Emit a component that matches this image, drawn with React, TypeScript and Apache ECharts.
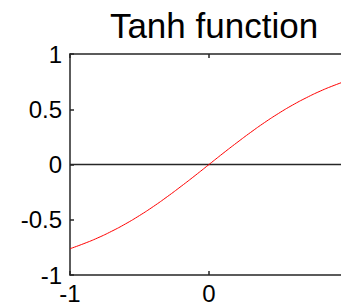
import React, { useEffect, useRef } from "react";
import * as echarts from "echarts";

const titleText = "Tanh function";
const xValues = [-1, -0.9, -0.8, -0.7, -0.6, -0.5, -0.4, -0.3, -0.2, -0.1, 0, 0.1, 0.2, 0.3, 0.4, 0.5, 0.6, 0.7, 0.8, 0.9, 1];
const yValues = [-0.762, -0.716, -0.664, -0.604, -0.537, -0.462, -0.38, -0.291, -0.197, -0.1, 0, 0.1, 0.197, 0.291, 0.38, 0.462, 0.537, 0.604, 0.664, 0.716, 0.762];
const zeroLine = [[-1, 0], [1, 0]];

export default function App() {
  const ref = useRef<HTMLDivElement>(null);
  useEffect(() => {
    document.body.style.margin = "0";
    document.body.style.overflow = "hidden";
    const chart = echarts.init(ref.current!, null, { renderer: "svg" });
    const font = "Arial, 'Liberation Sans', sans-serif";
    const axisLine = { show: true, onZero: false, lineStyle: { color: "#262626", width: 1.5 } };
    const tick = { show: true, inside: true, length: 4, lineStyle: { color: "#262626", width: 1.5 } };
    chart.setOption({
      animation: false,
      backgroundColor: "#ffffff",
      title: {
        text: titleText,
        left: 209,
        textAlign: "center",
        top: 3,
        textStyle: { fontFamily: font, fontSize: 35, fontWeight: "normal", color: "#000" },
      },
      grid: { left: 70, top: 54, width: 278, height: 221, containLabel: false },
      xAxis: [
        {
          type: "value",
          min: -1,
          max: 1,
          interval: 1,
          position: "bottom",
          axisLine,
          axisTick: tick,
          axisLabel: { fontFamily: font, fontSize: 24, color: "#000", margin: 6, showMaxLabel: false },
          splitLine: { show: false },
        },
        {
          type: "value",
          min: -1,
          max: 1,
          interval: 1,
          position: "top",
          axisLine,
          axisTick: tick,
          axisLabel: { show: false },
          splitLine: { show: false },
        },
      ],
      yAxis: [
        {
          type: "value",
          min: -1,
          max: 1,
          interval: 0.5,
          position: "left",
          axisLine,
          axisTick: tick,
          axisLabel: { fontFamily: font, fontSize: 24, color: "#000", margin: 8 },
          splitLine: { show: false },
        },
      ],
      series: [
        {
          type: "line",
          data: zeroLine,
          symbol: "none",
          lineStyle: { color: "#262626", width: 1.5 },
          silent: true,
        },
        {
          type: "line",
          data: xValues.map((x, i) => [x, yValues[i]]),
          smooth: true,
          symbol: "none",
          lineStyle: { color: "#ff0000", width: 1 },
        },
      ],
    });
    return () => chart.dispose();
  }, []);
  return <div ref={ref} style={{ width: 380, height: 305 }} />;
}
